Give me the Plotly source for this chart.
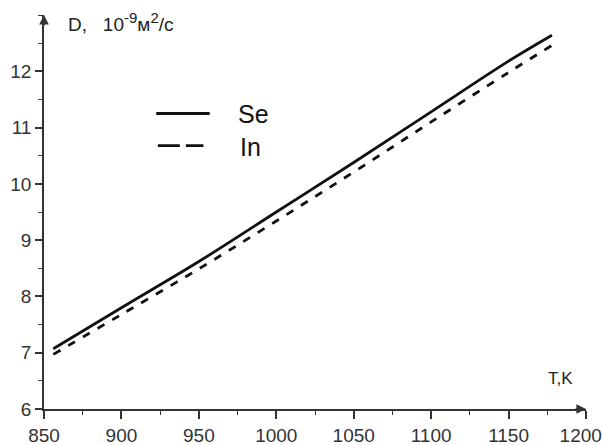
import plotly.graph_objects as go

# Data
T = [856, 900, 950, 1000, 1050, 1100, 1150, 1178]
D_Se = [7.07, 7.80, 8.62, 9.50, 10.38, 11.28, 12.18, 12.64]
D_In = [6.97, 7.68, 8.49, 9.34, 10.21, 11.10, 11.98, 12.46]

x_ticks = [850, 900, 950, 1000, 1050, 1100, 1150, 1200]
x_ticktext = ["850", "900", "950", "1000", "1050", "1100", "1150", "1200\u00a0\u00a0"]
y_ticks = [6, 7, 8, 9, 10, 11, 12]

FONT = "Arial, Liberation Sans, sans-serif"
AX = "#333333"
LINE = "#111111"

fig = go.Figure()
fig.add_trace(go.Scatter(x=T, y=D_Se, mode="lines", name="Se",
                         line=dict(color=LINE, width=2.8, shape="spline")))
fig.add_trace(go.Scatter(x=T, y=D_In, mode="lines", name="In",
                         line=dict(color=LINE, width=2.8, dash="8px,9px", shape="spline")))

fig.update_layout(
    width=603, height=445,
    margin=dict(l=44, r=17, t=15, b=36, autoexpand=False),
    paper_bgcolor="white", plot_bgcolor="white",
    font=dict(family=FONT, color="#222222"),
    showlegend=False,
    xaxis=dict(range=[850, 1200], tickvals=x_ticks, ticktext=x_ticktext, automargin=False,
               ticklabeloverflow="allow",
               showgrid=False, zeroline=False, showline=True, linecolor=AX, linewidth=1.6,
               ticks="outside", ticklen=8, tickwidth=1.6, tickcolor=AX,
               tickfont=dict(size=19, family=FONT, color="#333333"),
               minor=dict(ticks="outside", dtick=25, tick0=850, ticklen=4, tickwidth=1.4, tickcolor=AX,
                          showgrid=False)),
    yaxis=dict(range=[6, 13], tickvals=y_ticks, automargin=False,
               showgrid=False, zeroline=False, showline=True, linecolor=AX, linewidth=1.6,
               ticks="outside", ticklen=7, tickwidth=1.6, tickcolor=AX,
               tickfont=dict(size=19, family=FONT, color="#333333"),
               minor=dict(ticks="outside", dtick=0.5, tick0=6, ticklen=4, tickwidth=1.4, tickcolor=AX,
                          showgrid=False)),
)

# axis arrows
fig.add_annotation(x=1200, y=6, xref="x", yref="y", ax=-12, ay=0, showarrow=True,
                   arrowhead=2, arrowsize=1.2, arrowwidth=1.6, arrowcolor=AX, text="", standoff=0)
fig.add_annotation(x=850, y=13, xref="x", yref="y", ax=0, ay=12, showarrow=True,
                   arrowhead=2, arrowsize=1.2, arrowwidth=1.6, arrowcolor=AX, text="", standoff=0)

# legend keys (drawn in the plot)
fig.add_shape(type="line", x0=922.5, x1=957, y0=11.25, y1=11.25, xref="x", yref="y",
              line=dict(color=LINE, width=2.8))
fig.add_shape(type="line", x0=923.5, x1=953, y0=10.68, y1=10.68, xref="x", yref="y",
              line=dict(color=LINE, width=2.8, dash="22px,6px"))
fig.add_annotation(x=974, y=11.24, xref="x", yref="y", xanchor="left", yanchor="middle",
                   text="Se", showarrow=False, font=dict(size=25, family=FONT, color="#111111"))
fig.add_annotation(x=975, y=10.66, xref="x", yref="y", xanchor="left", yanchor="middle",
                   text="In", showarrow=False, font=dict(size=25, family=FONT, color="#111111"))

# axis titles
fig.add_annotation(x=864, y=12.88, xref="x", yref="y", xanchor="left", yanchor="middle",
                   text="D,&nbsp;&nbsp; 10<sup><span style='font-size:15px'>-9</span></sup>м<sup><span style='font-size:15px'>2</span></sup>/с",
                   showarrow=False,
                   font=dict(size=19, family=FONT, color="#222222"))
fig.add_annotation(x=1174, y=6.55, xref="x", yref="y", xanchor="left", yanchor="middle",
                   text="T,K", showarrow=False,
                   font=dict(size=17, family=FONT, color="#222222"))

fig.write_html("out.html", config={"displayModeBar": False},
               post_script="document.body.style.margin='0';document.body.style.padding='0';")
